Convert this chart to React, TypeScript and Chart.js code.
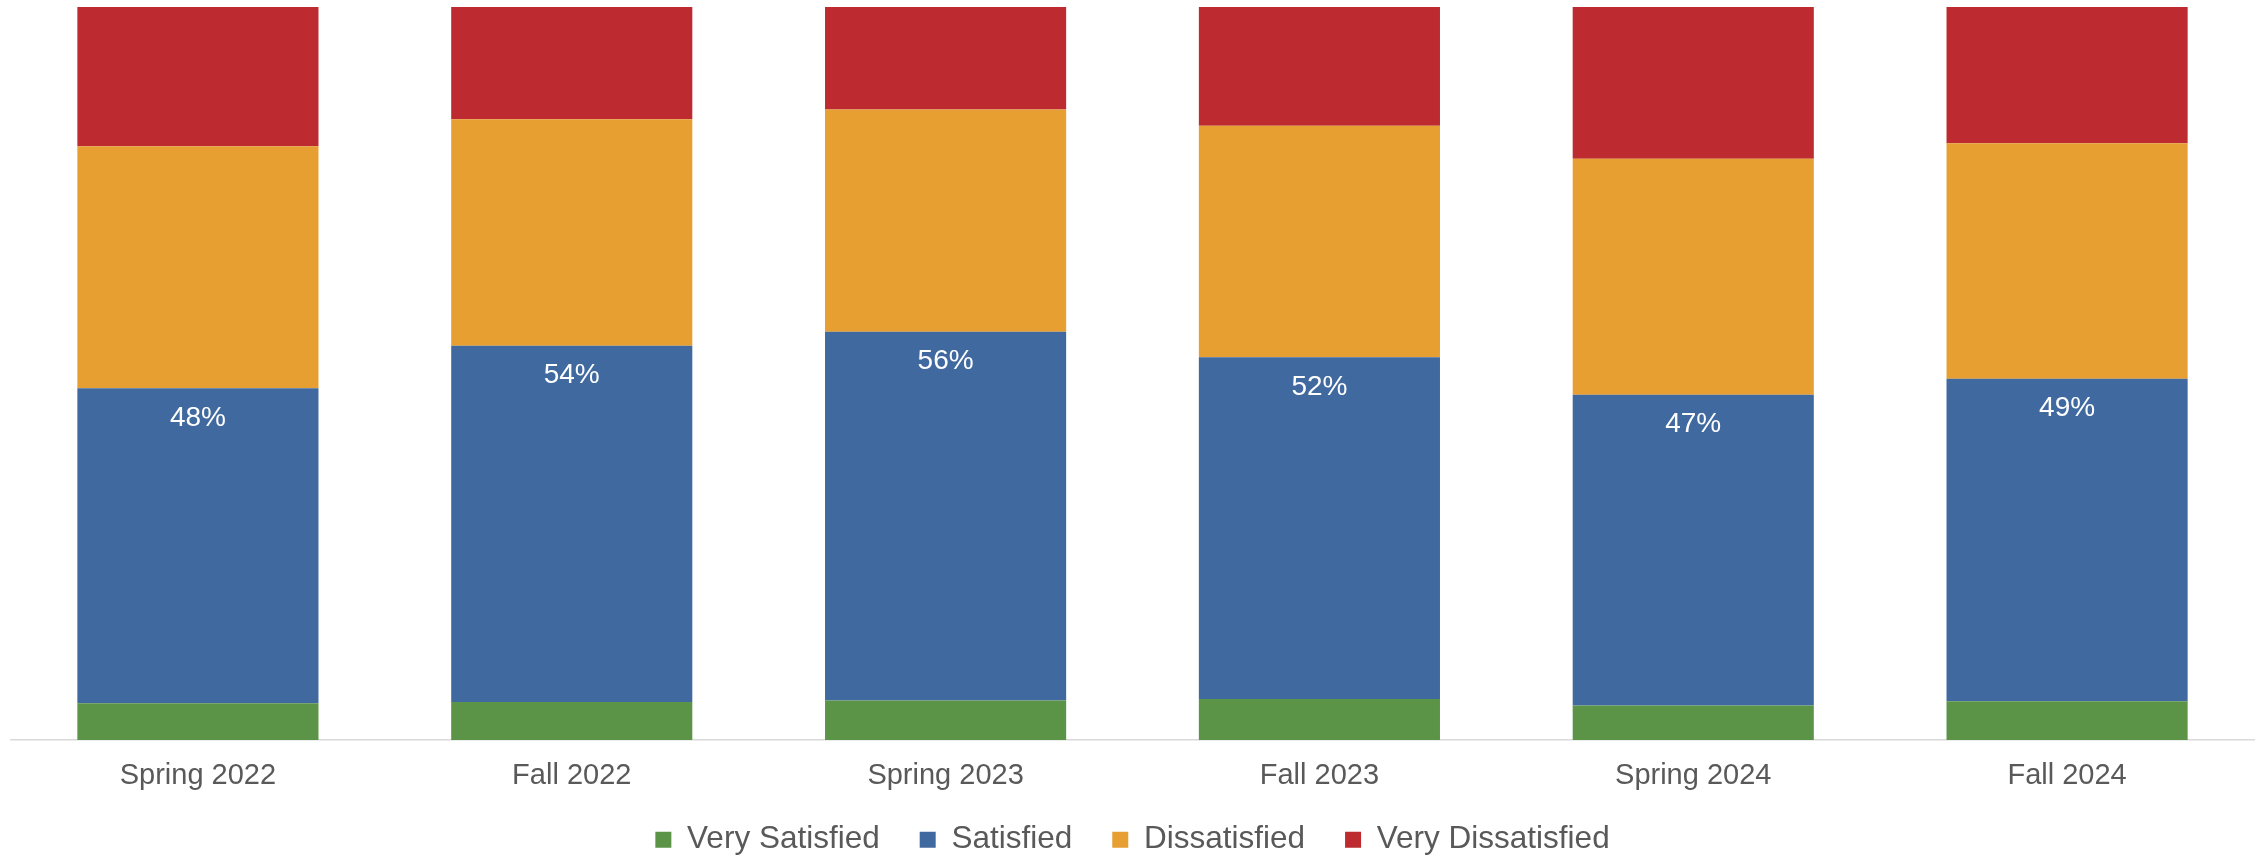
import React, { useEffect, useRef } from "react";
import { Chart, registerables } from "chart.js";

Chart.register(...registerables);

const categories = ["Spring 2022", "Fall 2022", "Spring 2023", "Fall 2023", "Spring 2024", "Fall 2024"];
const verySatisfied = [5.0, 5.2, 5.4, 5.6, 4.7, 5.3];
const satisfied = [43.0, 48.6, 50.3, 46.6, 42.4, 44.0];
const dissatisfied = [33.0, 30.9, 30.3, 31.6, 32.2, 32.1];
const veryDissatisfied = [19.0, 15.3, 14.0, 16.2, 20.7, 18.6];
const satisfiedTotalLabels = ["48%", "54%", "56%", "52%", "47%", "49%"];

const seriesNames = ["Very Satisfied", "Satisfied", "Dissatisfied", "Very Dissatisfied"];
const seriesColors = ["#5B9447", "#4069A0", "#E69F30", "#BD2A30"];

const FONT = "'Liberation Sans', Arial, sans-serif";

const labelPlugin = {
  id: "satLabels",
  afterDatasetsDraw(chart: any) {
    const meta = chart.getDatasetMeta(1);
    const ctx = chart.ctx;
    ctx.save();
    ctx.fillStyle = "#ffffff";
    ctx.font = `28px ${FONT}`;
    ctx.textAlign = "center";
    ctx.textBaseline = "middle";
    meta.data.forEach((bar: any, i: number) => {
      ctx.fillText(satisfiedTotalLabels[i], bar.x, bar.y + 30);
    });
    ctx.restore();
  },
};

const legendShiftPlugin = {
  id: "legendShift",
  afterLayout(chart: any) {
    const lg = chart.legend;
    if (lg) {
      lg.top -= 12;
      lg.height += 12;
    }
  },
};

export default function App() {
  const canvasRef = useRef<HTMLCanvasElement | null>(null);

  useEffect(() => {
    if (!canvasRef.current) return;
    const seriesData = [verySatisfied, satisfied, dissatisfied, veryDissatisfied];
    const chart = new Chart(canvasRef.current, {
      type: "bar",
      data: {
        labels: categories,
        datasets: seriesNames.map((name, i) => ({
          label: name,
          data: seriesData[i],
          backgroundColor: seriesColors[i],
          borderWidth: 0,
          categoryPercentage: 1,
          barPercentage: 0.645,
        })),
      },
      options: {
        animation: false,
        responsive: true,
        maintainAspectRatio: false,
        layout: { padding: { left: 11, right: 3, top: 7, bottom: 0 } },
        plugins: {
          tooltip: { enabled: false },
          legend: {
            position: "bottom",
            maxHeight: 61,
            labels: {
              boxWidth: 16,
              boxHeight: 16,
              padding: 40,
              color: "#595959",
              font: { family: FONT, size: 31.5 },
            },
          },
        },
        scales: {
          x: {
            stacked: true,
            grid: { display: false, drawTicks: false },
            border: { display: true, color: "#d9d9d9", width: 1.5 },
            ticks: {
              color: "#595959",
              padding: 19,
              font: { family: FONT, size: 29 },
              maxRotation: 0,
            },
            afterFit: (scale: any) => {
              scale.height = 56;
            },
          },
          y: {
            stacked: true,
            display: false,
            min: 0,
            max: 100,
          },
        },
      },
      plugins: [labelPlugin, legendShiftPlugin],
    });
    return () => chart.destroy();
  }, []);

  return (
    <div style={{ position: "absolute", left: 0, top: 0, width: 2257, height: 857 }}>
      <canvas ref={canvasRef} />
    </div>
  );
}
